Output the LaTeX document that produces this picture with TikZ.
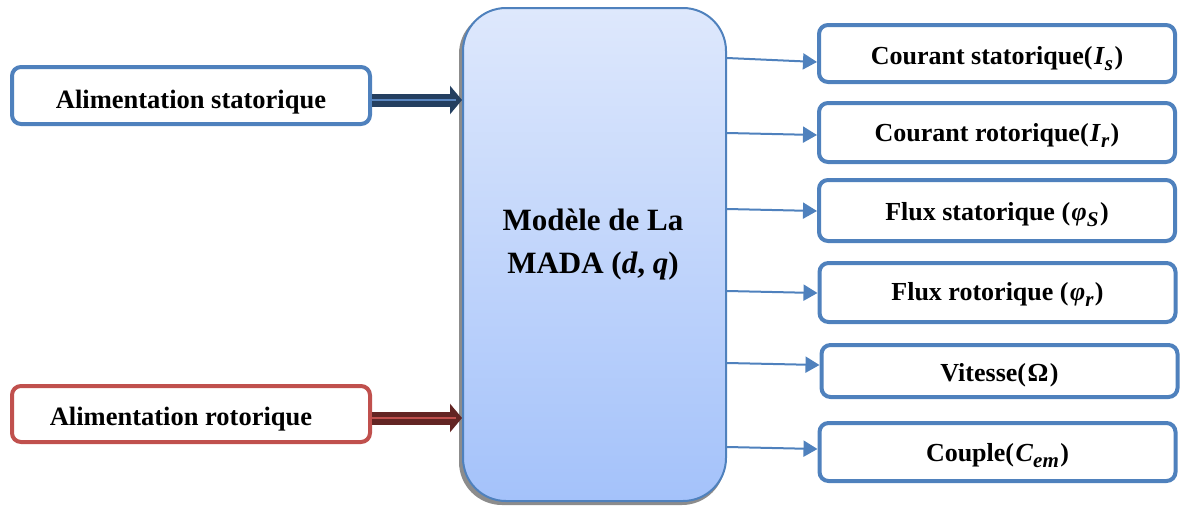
\documentclass[tikz,border=0pt]{standalone}
\usepackage{fontspec}
\setmainfont{Liberation Serif}
\usetikzlibrary{arrows.meta}
\definecolor{frameblue}{HTML}{4F81BD}
\definecolor{framered}{HTML}{C0504D}
\definecolor{navy}{HTML}{243F60}
\definecolor{navystripe}{HTML}{5A86C0}
\definecolor{darkred}{HTML}{632523}
\definecolor{redstripe}{HTML}{C0504D}
\definecolor{padtop}{RGB}{222,232,252}
\definecolor{padbot}{RGB}{164,194,250}

% quantity symbols: bold italic letter with a lowered index
\newcommand{\qsym}[1]{\textit{#1}}
\newcommand{\lowsub}[1]{\raisebox{-0.24em}{\fontsize{21}{21}\selectfont\bfseries\itshape #1}}
\newcommand{\qpar}[1]{(\kern1.5pt#1\kern1.5pt)}

\tikzset{
  inbox/.style={line width=4pt, rounded corners=9pt, minimum width=358pt,
    fill=white, inner sep=0pt, text depth=0pt,
    font=\fontsize{26.5}{30}\selectfont\bfseries},
  outbox/.style={draw=frameblue, line width=4pt, rounded corners=9pt,
    minimum width=356pt, fill=white, inner sep=0pt, text depth=0pt,
    font=\fontsize{26}{30}\selectfont\bfseries},
  feed/.style={line width=13pt, -{Triangle[length=12pt,width=28pt]}},
  stripe/.style={line width=1.5pt},
  outarrow/.style={draw=frameblue, line width=2pt,
    -{Triangle[length=14pt,width=16pt]}},
}

\begin{document}
\begin{tikzpicture}[x=1pt,y=-1pt]
\useasboundingbox (0,0) rectangle (1183,506);

% model block with its shadow
\fill[black!45, rounded corners=43pt] (459,11) rectangle (725,505);
\node[draw=frameblue, line width=2pt, rounded corners=43pt,
      top color=padtop, bottom color=padbot,
      minimum width=263pt, minimum height=493pt, inner sep=0pt]
      (mada) at (594.5,254.5) {};
\node[font=\fontsize{31}{43}\selectfont\bfseries, align=center]
      (madatext) at (593,245) {Modèle de La\\MADA (\qsym{d}, \qsym{q})};

% inputs
\node[inbox, draw=frameblue, minimum height=57pt, text height=25pt]
      (stat) at (191,95.5) {Alimentation statorique};
\node[inbox, draw=framered, minimum height=56pt, text height=22pt]
      (rot) at (191,414) {\hspace*{-20pt}Alimentation rotorique};

\coordinate (sin) at (372,100);
\coordinate (rin) at (372,418);
\draw[feed, navy] (sin) -- (sin -| mada.west);
\draw[stripe, navystripe] (sin) -- ++(84,0);
\draw[feed, darkred] (rin) -- (rin -| mada.west);
\draw[stripe, redstripe] (rin) -- ++(84,0);

% outputs
\node[outbox, minimum height=57pt, text height=21pt] (o1) at (997,53.5)
      {Courant statorique\qpar{\qsym{I}\lowsub{s}}};
\node[outbox, minimum height=59pt, text height=18pt] (o2) at (997,132.5)
      {Courant rotorique\qpar{\qsym{I}\lowsub{r}}};
\node[outbox, minimum height=61pt, text height=19pt] (o3) at (997,210.5)
      {Flux statorique \qpar{\qsym{φ}\lowsub{S}}};
\node[outbox, minimum height=59pt, text height=15pt] (o4) at (997.5,292.5)
      {Flux rotorique \qpar{\qsym{φ}\lowsub{r}}};
\node[outbox, minimum height=52pt, text height=21pt] (o5) at (999.5,371)
      {Vitesse\qpar{Ω}};
\node[outbox, minimum height=58pt, text height=19pt] (o6) at (997.5,452)
      {Couple\qpar{\qsym{C}\lowsub{em}}};

\coordinate (t1) at (727,58);
\coordinate (t2) at (727,133);
\coordinate (t3) at (727,209);
\coordinate (t4) at (727,291);
\coordinate (t5) at (727,363);
\coordinate (t6) at (727,447);
\draw[outarrow] (t1) -- ([yshift=-8.5pt]o1.west);
\draw[outarrow] (t2) -- ([yshift=-2.5pt]o2.west);
\draw[outarrow] (t3) -- ([yshift=-0.5pt]o3.west);
\draw[outarrow] (t4) -- ([yshift=-0.5pt]o4.west);
\draw[outarrow] (t5) -- ([yshift=6pt]o5.west);
\draw[outarrow] (t6) -- ([yshift=3pt]o6.west);
\end{tikzpicture}
\end{document}
